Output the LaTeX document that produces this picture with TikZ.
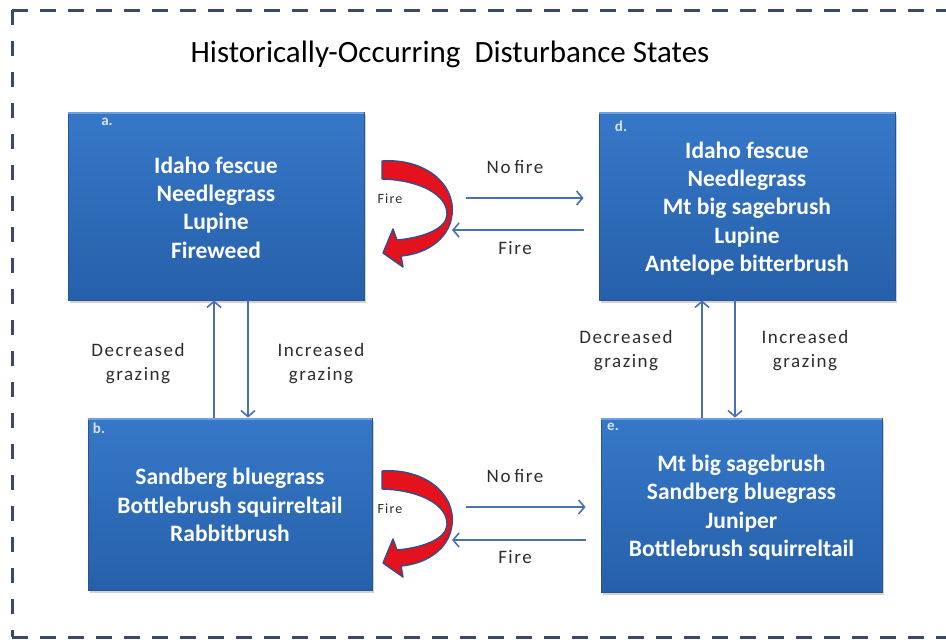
\documentclass[tikz,border=0pt]{standalone}
\usepackage{fontspec}
\setmainfont{Carlito}
\newfontfamily\spaced[LetterSpace=8]{Carlito}
\usetikzlibrary{arrows.meta,shadows}
\definecolor{framecol}{RGB}{60,72,105}
\definecolor{boxtop}{RGB}{54,120,200}
\definecolor{boxbot}{RGB}{38,96,170}
\definecolor{boxedge}{RGB}{40,84,145}
\definecolor{boxrim}{RGB}{110,160,225}
\definecolor{linkcol}{RGB}{74,112,180}
\definecolor{labelgray}{RGB}{45,45,45}
\definecolor{tagcol}{RGB}{215,228,245}
\definecolor{firered}{RGB}{228,18,28}
\definecolor{fireedge}{RGB}{50,78,140}

\begin{document}
\begin{tikzpicture}[x=1pt,y=-1pt,
  statebox/.style={rectangle, top color=boxtop, bottom color=boxbot,
    draw=boxedge, line width=0.8pt, inner sep=0pt,
    drop shadow={opacity=0.35, shadow xshift=1.5pt, shadow yshift=-2.5pt}},
  rim/.style={draw=boxrim, line width=1.6pt},
  species/.style={text=white, font=\bfseries\fontsize{23.5}{28.3}\selectfont, align=center},
  tag/.style={text=tagcol, font=\bfseries\fontsize{15}{15}\selectfont},
  trans/.style={draw=linkcol, line width=1.6pt,
    -{Straight Barb[length=6pt,width=14pt,line width=1.6pt]}},
  cue/.style={text=labelgray, font=\spaced\fontsize{19}{24}\selectfont, align=center},
  firecue/.style={text=labelgray, font=\spaced\fontsize{14}{14}\selectfont},
  flame/.style={fill=firered, draw=fireedge, line width=1.4pt, line join=round},
  hframe/.style={draw=framecol, line width=3pt, dash pattern=on 16pt off 12pt},
  vframe/.style={draw=framecol, line width=3pt, dash pattern=on 15pt off 16pt}
]
\useasboundingbox (0,0) rectangle (946,641);
\clip (0,0) rectangle (946,641);
\fill[white] (0,0) rectangle (946,641);

% dashed outer frame, open on the right
\coordinate (fr-tl) at (12,10);
\coordinate (fr-bl) at (12,637);
\draw[hframe] (fr-tl) -- ++(950,0);
\draw[hframe] (fr-bl) -- ++(950,0);
\draw[vframe] (fr-tl) -- (fr-bl);

% title
\node[font=\fontsize{31}{34}\selectfont, text=black] (title) at (450,54)
  {Historically-Occurring\ \ Disturbance States};

% state boxes
\node[statebox, minimum width=296pt, minimum height=188pt] (a) at (216,206) {};
\node[statebox, minimum width=296pt, minimum height=188pt] (d) at (747,206) {};
\node[statebox, minimum width=284pt, minimum height=172pt] (b) at (230,504) {};
\node[statebox, minimum width=281pt, minimum height=174pt] (e) at (741.5,505) {};
\foreach \bx in {a,d,b,e}
  \draw[rim] ([yshift=-1.2pt]\bx.north west) -- ([yshift=-1.2pt]\bx.north east);

% box letters
\node[tag] (a-tag) at (107,122) {a.};
\node[tag] (d-tag) at (621,126) {d.};
\node[tag] (b-tag) at (99,428) {b.};
\node[tag] (e-tag) at (613,427) {e.};

% species lists
\node[species] (a-txt) at (216,207.5) {Idaho fescue\\Needlegrass\\Lupine\\Fireweed};
\node[species] (d-txt) at (747,208.5) {Idaho fescue\\Needlegrass\\Mt big sagebrush\\Lupine\\Antelope bitterbrush};
\node[species] (b-txt) at (230,505) {Sandberg bluegrass\\Bottlebrush squirreltail\\Rabbitbrush};
\node[species] (e-txt) at (741.5,507.5) {Mt big sagebrush\\Sandberg bluegrass\\Juniper\\Bottlebrush squirreltail};

% grazing transitions
\coordinate (xab-up) at (214,0);
\coordinate (xab-dn) at (248,0);
\coordinate (xde-up) at (702,0);
\coordinate (xde-dn) at (735,0);
\draw[trans] (b.north -| xab-up) -- (a.south -| xab-up);
\draw[trans] (a.south -| xab-dn) -- (b.north -| xab-dn);
\draw[trans] (e.north -| xde-up) -- (d.south -| xde-up);
\draw[trans] (d.south -| xde-dn) -- (e.north -| xde-dn);

\node[cue] (ab-dec) at (138,364) {Decreased\\grazing};
\node[cue] (ab-inc) at (321,364) {Increased\\grazing};
\node[cue] (de-dec) at (626,351) {Decreased\\grazing};
\node[cue] (de-inc) at (805,351) {Increased\\grazing};

% fire transitions
\coordinate (ad-nofire) at (466,198);
\coordinate (da-fire) at (452,230);
\coordinate (be-nofire) at (466,507);
\coordinate (eb-fire) at (452,540);
\draw[trans] (ad-nofire) -- ([xshift=-15pt]ad-nofire -| d.west);
\draw[trans] ([xshift=-15pt]da-fire -| d.west) -- (da-fire);
\draw[trans] (be-nofire) -- ([xshift=-15pt]be-nofire -| e.west);
\draw[trans] ([xshift=-15pt]eb-fire -| e.west) -- (eb-fire);

\node[cue] (ad-lbl) at (515,167) {No\hspace{-2pt} fire};
\node[cue] (da-lbl) at (515,248) {Fire};
\node[cue] (be-lbl) at (515,476) {No\hspace{-2pt} fire};
\node[cue] (eb-lbl) at (515,557) {Fire};

% self-loop fire arrows
\foreach \dy/\nm in {0/a, 310/b} {
  \begin{scope}[shift={(0,\dy)}]
    \path[flame] (382,161) .. controls (422,158) and (456,182) .. (452,215)
      .. controls (449,240) and (425,254) .. (401,256)
      -- (403,267) -- (383,253) -- (393,229) -- (397,240)
      .. controls (420,238) and (446,230) .. (447,215)
      .. controls (448,195) and (420,180) .. (382,179) -- cycle;
    \node[firecue] (\nm-self) at (390,199) {Fire};
  \end{scope}
}
\end{tikzpicture}
\end{document}
